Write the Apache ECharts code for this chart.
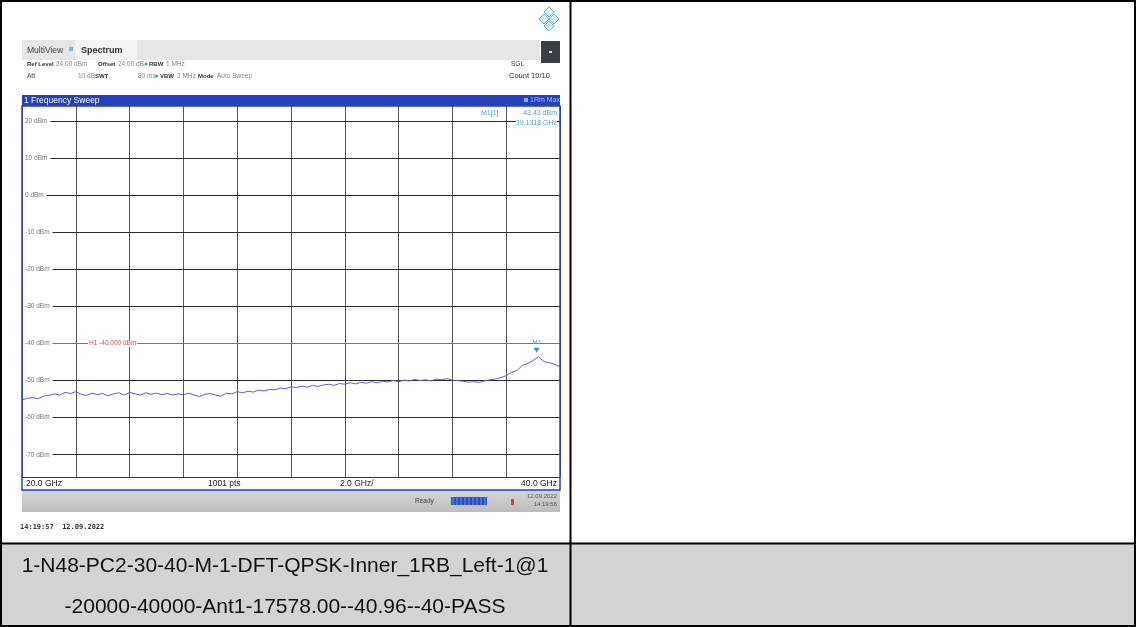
<!DOCTYPE html>
<html><head><meta charset="utf-8">
<script src="https://cdn.jsdelivr.net/npm/echarts@6/dist/echarts.min.js"></script>
<style>html,body{margin:0;padding:0;background:#fff}#c{width:1136px;height:627px}</style>
</head><body><div id="c"></div>
<script>
const freqs = [20.0,20.2,20.4,20.6,20.8,21.0,21.2,21.4,21.6,21.8,22.0,22.2,22.4,22.6,22.8,23.0,23.2,23.4,23.6,23.8,
24.0,24.2,24.4,24.6,24.8,25.0,25.2,25.4,25.6,25.8,26.0,26.2,26.4,26.6,26.8,27.0,27.2,27.4,27.6,27.8,
28.0,28.2,28.4,28.6,28.8,29.0,29.2,29.4,29.6,29.8,30.0,30.2,30.4,30.6,30.8,31.0,31.2,31.4,31.6,31.8,
32.0,32.2,32.4,32.6,32.8,33.0,33.2,33.4,33.6,33.8,34.0,34.2,34.4,34.6,34.8,35.0,35.2,35.4,35.6,35.8,
36.0,36.2,36.4,36.6,36.8,37.0,37.2,37.4,37.6,37.8,38.0,38.2,38.4,38.6,38.8,39.0,39.2,39.4,39.6,39.8,40.0];
const trace = [-55.2,-54.8,-54.6,-54.9,-54.2,-54.0,-53.6,-53.9,-53.2,-53.5,-53.0,-53.7,-54.0,-53.4,-53.8,-53.5,-54.1,-53.6,-53.3,-53.9,
-53.2,-53.6,-53.9,-53.3,-53.7,-53.4,-53.8,-53.5,-53.9,-53.6,-53.8,-53.4,-53.9,-54.3,-53.7,-53.5,-53.9,-54.2,-53.4,-53.6,
-53.0,-53.3,-52.9,-53.1,-52.6,-52.8,-52.4,-52.5,-52.0,-52.2,-51.7,-51.9,-51.5,-51.8,-51.3,-51.6,-51.2,-51.0,-51.3,-50.8,
-51.0,-50.6,-50.9,-50.5,-50.7,-50.3,-50.6,-50.2,-50.4,-50.0,-50.3,-49.9,-50.1,-49.7,-50.0,-49.8,-50.1,-49.6,-49.8,-49.5,
-49.9,-50.0,-50.2,-50.4,-50.3,-50.5,-50.1,-49.8,-49.6,-49.2,-48.7,-47.8,-47.3,-45.9,-45.4,-44.6,-43.6,-44.9,-45.2,-45.6,-46.3];
const yTicks = [20,10,0,-10,-20,-30,-40,-50,-60,-70];
const yTickLabels = ['20 dBm','10 dBm','0 dBm','-10 dBm','-20 dBm','-30 dBm','-40 dBm','-50 dBm','-60 dBm','-70 dBm'];
const limitLevel = -40;
const limitLabel = 'H1 -40.000 dBm';
const markerFreq = 39.1318;
const markerLevel = -43.43;
const markerName = 'M1';
const markerReadout = ['M1[1]','-43.43 dBm','39.1318 GHz'];
const xLabels = ['20.0 GHz','1001 pts','2.0 GHz/','40.0 GHz'];
const captionLines = ['1-N48-PC2-30-40-M-1-DFT-QPSK-Inner_1RB_Left-1@1','-20000-40000-Ant1-17578.00--40.96--40-PASS'];

const F = 'Liberation Sans';
const chart = echarts.init(document.getElementById('c'), null, {renderer:'canvas'});
const G = {left:22, top:106, width:538, height:371};

function T(x, y, text, o, extra) {
  return Object.assign({type:'text', x:x, y:y, z:100, silent:true,
    style:Object.assign({text:text, fontFamily:F, fontSize:7, fill:'#444', verticalAlign:'middle', align:'left'}, o||{})}, extra||{});
}
function R(x, y, w, h, fill, o) {
  return Object.assign({type:'rect', z:90, silent:true, shape:{x:x,y:y,width:w,height:h}, style:{fill:fill}}, o||{});
}
function L(x1,y1,x2,y2,stroke,w) {
  return {type:'line', z:110, silent:true, shape:{x1:x1,y1:y1,x2:x2,y2:y2}, style:{stroke:stroke, lineWidth:w}};
}

const option = {
  animation:false,
  backgroundColor:'#fff',
  grid:{left:G.left, top:G.top, width:G.width, height:G.height, show:false},
  xAxis:{type:'value', min:20, max:40, interval:2,
    axisLine:{show:false}, axisTick:{show:false}, axisLabel:{show:false},
    splitLine:{show:true, lineStyle:{color:'#555', width:1}}},
  yAxis:{type:'value', min:-76, max:24,
    axisLine:{show:false}, axisTick:{show:false}, axisLabel:{show:false}, splitLine:{show:false}},
  series:[{
    type:'line', z:3, showSymbol:false, silent:true,
    data:freqs.map((f,i)=>[f, trace[i]]),
    lineStyle:{color:'#5b5be8', width:1},
    markLine:{silent:true, symbol:'none', z:1, animation:false,
      label:{show:false},
      data:yTicks.filter(v=>v!==limitLevel).map(v=>({yAxis:v, lineStyle:{color:'#2a2a2a', width:1, type:'solid'}}))
        .concat([{yAxis:limitLevel, lineStyle:{color:'#e04848', width:1, type:'solid'}}])},
    markPoint:{silent:true, z:6, data:[{coord:[markerFreq, markerLevel], symbol:'triangle', symbolRotate:180,
      symbolSize:[6,5], symbolOffset:[0,-6], itemStyle:{color:'#3a8fd8'},
      label:{show:true, formatter:markerName, position:'top', distance:2, fontSize:6, color:'#5aa6e0', fontFamily:F}}]}
  }]
};
chart.setOption(option);

const g = [];
// table background
g.push(R(2, 544, 1132, 82, '#d3d3d3', {z:1}));
// header band
g.push(R(22, 40, 518, 20, '#e6e6e6'));
g.push(R(75, 40, 62, 20, '#f3f3f3'));
g.push(T(27, 51, 'MultiView', {fontSize:8.5, fill:'#444'}));
g.push(R(69, 47, 4, 4, '#7ab4e8'));
g.push(T(81, 51, 'Spectrum', {fontSize:9, fill:'#333', fontWeight:'bold'}));
g.push(R(541, 41, 19, 22, '#3b4046'));
g.push(R(549, 51, 3, 2, '#ddd'));
// logo
[[549,12],[544,19],[554,19],[549,26]].forEach(p=>{
  g.push({type:'polygon', z:100, silent:true, shape:{points:[[p[0],p[1]-5],[p[0]+5,p[1]],[p[0],p[1]+5],[p[0]-5,p[1]]]},
    style:{fill:'#dff0fa', stroke:'#5ab4e2', lineWidth:1}});
});
// info lines
const b = {fontWeight:'bold', fill:'#333', fontSize:6}, v = {fill:'#8a8a8a', fontSize:6.5};
g.push(T(27,64,'Ref Level',b)); g.push(T(56,64,'24.00 dBm',v));
g.push(T(98,64,'Offset',b)); g.push(T(118,64,'24.00 dB',v));
g.push({type:'circle', z:100, silent:true, shape:{cx:146, cy:64, r:1.5}, style:{fill:'#3cb043'}});
g.push(T(149,64,'RBW',b)); g.push(T(166,64,'1 MHz',v));
g.push(T(27,76,'Att',{fill:'#444', fontSize:6.5})); g.push(T(78,76,'10 dB',v));
g.push(T(95,76,'SWT',b)); g.push(T(138,76,'80 ms',v));
g.push({type:'circle', z:100, silent:true, shape:{cx:156.5, cy:76, r:1.5}, style:{fill:'#3cb043'}});
g.push(T(160,76,'VBW',b)); g.push(T(177,76,'3 MHz',v));
g.push(T(198,76,'Mode',b)); g.push(T(217,76,'Auto Sweep',v));
g.push(T(511,64,'SGL',{fill:'#444', fontSize:6.5}));
g.push(T(509,76,'Count 10/10',{fill:'#333', fontSize:7.5}));
// blue bar
g.push(R(22, 95, 538, 11, '#2340c0'));
g.push(T(24, 100.5, '1 Frequency Sweep', {fill:'#fff', fontSize:8.5}));
g.push(R(524, 98, 4, 4, '#8fa8ff', {z:100}));
g.push(T(530, 100.5, '1Rm Max', {fill:'#a9b8f0', fontSize:7}));
// y labels via scale
yTicks.forEach((t,i)=>{
  const py = chart.convertToPixel({yAxisIndex:0}, t);
  g.push(T(23, py, yTickLabels[i], {fill:'#777', fontSize:6.5, backgroundColor:'#fff', padding:[0,3,0,2]}));
});
const ly = chart.convertToPixel({yAxisIndex:0}, limitLevel);
g.push(T(88, ly, limitLabel, {fill:'#e05050', fontSize:6.5, backgroundColor:'#fff', padding:[0,1]}));
// marker readout
g.push(T(481, 113, markerReadout[0], {fill:'#4aa3e0', fontSize:7, backgroundColor:'#fff'}));
g.push(T(557, 113, markerReadout[1], {fill:'#4aa3e0', fontSize:7, align:'right', backgroundColor:'#fff'}));
g.push(T(557, 123, markerReadout[2], {fill:'#4aa3e0', fontSize:7, align:'right', backgroundColor:'#fff'}));
// x label row
g.push(R(23, 478, 536, 11, '#fff'));
g.push(L(22, 477.5, 560, 477.5, '#333', 1));
g.push(T(26, 484, xLabels[0], {fill:'#222', fontSize:8.5}));
g.push(T(208, 484, xLabels[1], {fill:'#222', fontSize:8.5}));
g.push(T(340, 484, xLabels[2], {fill:'#222', fontSize:8.5}));
g.push(T(557, 484, xLabels[3], {fill:'#222', fontSize:8.5, align:'right'}));
// blue frame
g.push({type:'rect', z:120, silent:true, shape:{x:22, y:106, width:538, height:384}, style:{fill:null, stroke:'#2a3fc0', lineWidth:1.5}});
// status bar
g.push(R(22, 490, 538, 22, null, {style:{fill:new echarts.graphic.LinearGradient(0,0,0,1,[{offset:0,color:'#d6d6d6'},{offset:1,color:'#bdbdbd'}])}}));
g.push(T(415, 501, 'Ready', {fill:'#444', fontSize:6.5}));
g.push(R(451, 497, 36, 8, '#2a50c8', {z:100}));
for (let k=0;k<9;k++) g.push(L(453+k*4, 497, 453+k*4, 505, '#7fa0ff', 0.8));
g.push(R(511, 499, 3, 6, '#c84a3a', {z:100}));
g.push(T(557, 496, '12.09.2022', {fill:'#555', fontSize:6, align:'right'}));
g.push(T(557, 504, '14:19:56', {fill:'#555', fontSize:6, align:'right'}));
g.push(T(20, 527, '14:19:57  12.09.2022', {fill:'#333', fontSize:7, fontFamily:'DejaVu Sans Mono', fontWeight:'bold'}));
// caption
g.push(T(285, 566, captionLines[0], {fill:'#111', fontSize:21, align:'center', fontFamily:F}));
g.push(T(285, 607, captionLines[1], {fill:'#111', fontSize:21, align:'center', fontFamily:F}));
// table borders
g.push(L(1, 1, 1135, 1, '#000', 2));
g.push(L(1, 626, 1135, 626, '#000', 2));
g.push(L(1, 0, 1, 627, '#000', 2));
g.push(L(1135, 0, 1135, 627, '#000', 2));
g.push(L(570.5, 0, 570.5, 627, '#000', 2));
g.push(L(0, 543.5, 1136, 543.5, '#000', 2));

chart.setOption({graphic:{elements:g}});
</script></body></html>
